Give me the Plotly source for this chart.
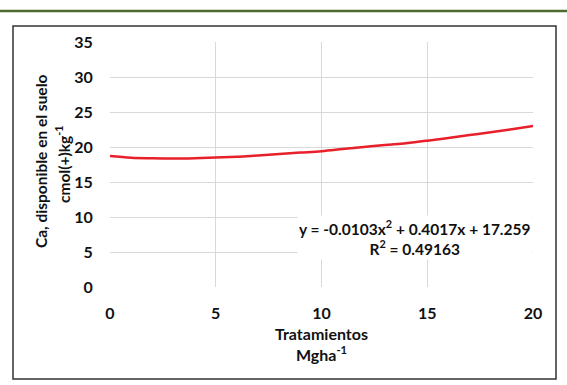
import plotly.graph_objects as go

x_vals = [0, 1, 2, 3, 4, 5, 6, 7, 8, 9, 10, 11, 12, 13, 14, 15, 16, 17, 18, 19, 20]
y_vals = [18.7, 18.45, 18.38, 18.35, 18.4, 18.5, 18.6, 18.8, 19.0, 19.2, 19.4,
          19.7, 20.0, 20.3, 20.55, 20.9, 21.3, 21.7, 22.1, 22.55, 23.0]
x_ticks = [0, 5, 10, 15, 20]
y_ticks = [0, 5, 10, 15, 20, 25, 30, 35]

FONT = "Lato"
L, T, W, H = 110, 42, 423, 245  # plot area in pixels


def px(xp):
    return (xp - L) / W


def py(yp):
    return (T + H - yp) / H


fig = go.Figure()
fig.add_trace(go.Scatter(x=x_vals, y=y_vals, mode="lines",
                         line=dict(color="#e8202a", width=2.5, shape="spline"),
                         hoverinfo="skip"))

fig.update_layout(
    width=567, height=385,
    margin=dict(l=L, r=567 - L - W, t=T, b=385 - T - H),
    paper_bgcolor="white", plot_bgcolor="white",
    showlegend=False,
    font=dict(family=FONT, size=15, color="#111111"),
    xaxis=dict(range=[0, 20], tickvals=x_ticks, showgrid=True, gridcolor="#d9d9d9", gridwidth=1,
               zeroline=False, showline=False, ticks="outside", ticklen=12,
               tickcolor="rgba(0,0,0,0)",
               tickfont=dict(family=FONT, size=16, weight="bold"), fixedrange=True),
    yaxis=dict(range=[0, 35], tickvals=y_ticks, showgrid=True, gridcolor="#d9d9d9", gridwidth=1,
               zeroline=False, showline=False, ticks="outside", ticklen=13,
               tickcolor="rgba(0,0,0,0)",
               tickfont=dict(family=FONT, size=16, weight="bold"), fixedrange=True),
)

# X axis title
fig.add_annotation(text="<b>Tratamientos</b><br><b>Mgha<sup>-1</sup></b>", xref="paper",
                   yref="paper", x=0.5, y=py(344), showarrow=False,
                   font=dict(family=FONT, size=16), xanchor="center", yanchor="middle")
# Y axis title (two lines)
fig.add_annotation(text="<b>Ca, disponible en el suelo</b>",
                   xref="paper", yref="paper", x=px(41), y=py(161),
                   textangle=-90, showarrow=False, font=dict(family=FONT, size=15.5),
                   xanchor="center", yanchor="middle")
fig.add_annotation(text="<b>cmol(+)kg<sup>-1</sup></b>",
                   xref="paper", yref="paper", x=px(62), y=py(164),
                   textangle=-90, showarrow=False, font=dict(family=FONT, size=15.5),
                   xanchor="center", yanchor="middle")
# Equation
fig.add_annotation(text="<b>y = -0.0103x<sup>2</sup> + 0.4017x + 17.259</b><br><b>R<sup>2</sup> = 0.49163</b>",
                   xref="paper", yref="paper", x=px(415), y=py(237),
                   showarrow=False, font=dict(family=FONT, size=15.5), xanchor="center",
                   yanchor="middle", align="center", bgcolor="white")

# Outer frame and top green line
fig.add_shape(type="rect", xref="paper", yref="paper",
              x0=px(13), x1=px(556), y0=py(379), y1=py(26),
              line=dict(color="#333333", width=1.5), layer="below")
fig.add_shape(type="line", xref="paper", yref="paper",
              x0=px(0), x1=px(567), y0=py(11), y1=py(11),
              line=dict(color="#4e6b30", width=2.5))

fig.write_html("out.html", config={"displayModeBar": False},
               post_script="document.body.style.margin='0';")
